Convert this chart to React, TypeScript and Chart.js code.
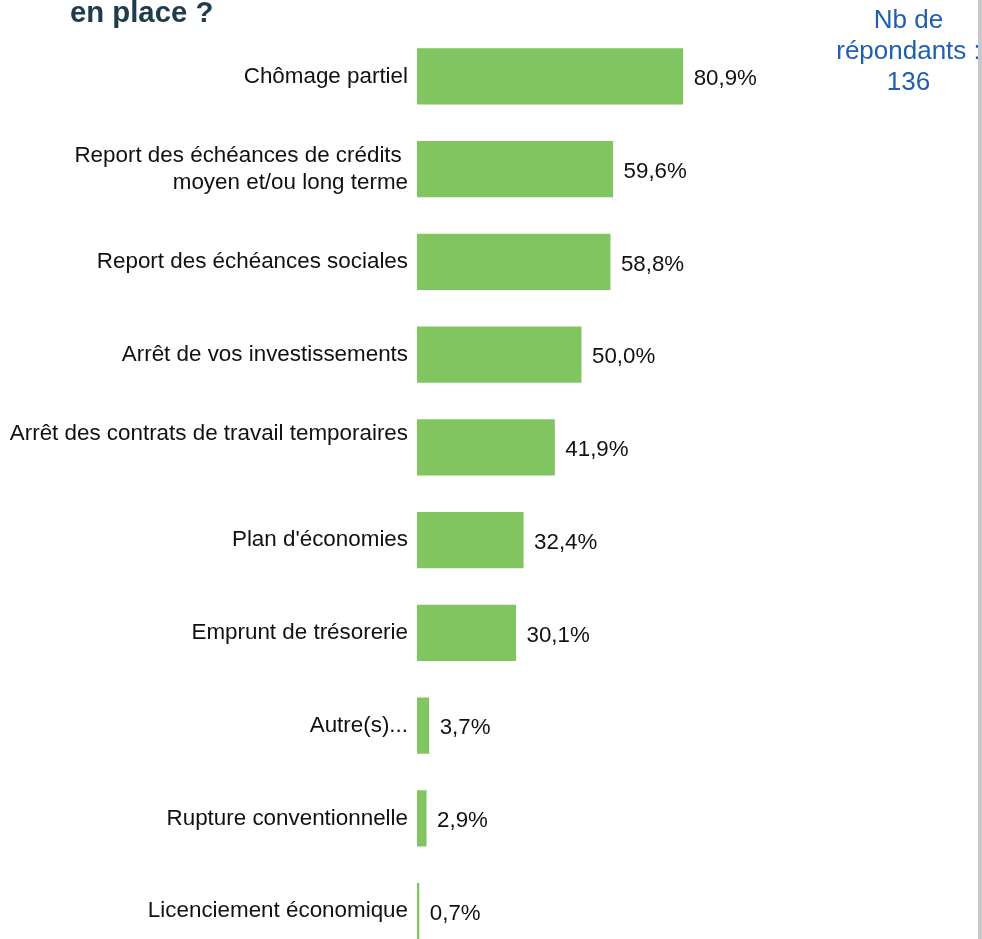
import React, { useEffect, useRef } from "react";
import { Chart, registerables } from "chart.js";

Chart.register(...registerables);

const categories: (string | string[])[] = [
  "Chômage partiel",
  ["Report des échéances de crédits ", "moyen et/ou long terme"],
  "Report des échéances sociales",
  "Arrêt de vos investissements",
  ["Arrêt des contrats de travail temporaires", ""],
  "Plan d'économies",
  "Emprunt de trésorerie",
  "Autre(s)...",
  "Rupture conventionnelle",
  "Licenciement économique",
];

const values: number[] = [80.9, 59.6, 58.8, 50.0, 41.9, 32.4, 30.1, 3.7, 2.9, 0.7];

const titleText = "en place ?";
const noteLines: string[] = ["Nb de", "répondants :", "136"];

const FONT = '"Liberation Sans", Arial, sans-serif';

const fmt = (v: number) => v.toFixed(1).replace(".", ",") + "%";

export default function App() {
  const ref = useRef<HTMLCanvasElement>(null);

  useEffect(() => {
    const canvas = ref.current;
    if (!canvas) return;

    const valueLabels = {
      id: "valueLabels",
      afterDatasetsDraw(chart: any) {
        const ctx = chart.ctx;
        const meta = chart.getDatasetMeta(0);
        ctx.save();
        ctx.font = `22.3px ${FONT}`;
        ctx.fillStyle = "#111111";
        ctx.textAlign = "left";
        ctx.textBaseline = "middle";
        meta.data.forEach((bar: any, i: number) => {
          ctx.fillText(fmt(values[i]), bar.x + 10.5, bar.y + 2.5);
        });
        ctx.restore();
      },
    };

    const overlay = {
      id: "overlay",
      afterDraw(chart: any) {
        const ctx = chart.ctx;
        ctx.save();
        // title (cropped)
        ctx.font = `bold 29.3px ${FONT}`;
        ctx.fillStyle = "#203B4C";
        ctx.textAlign = "left";
        ctx.textBaseline = "alphabetic";
        ctx.fillText(titleText, 70, 22);
        // respondents note
        ctx.font = `26px ${FONT}`;
        ctx.fillStyle = "#1F5FAF";
        ctx.textAlign = "center";
        noteLines.forEach((t, i) => {
          ctx.fillText(t, 908.5, 28 + i * 31);
        });
        // right grey border
        ctx.fillStyle = "#c8c8c8";
        ctx.fillRect(978, 0, 4, chart.height);
        ctx.restore();
      },
    };

    const chart = new Chart(canvas, {
      type: "bar",
      data: {
        labels: categories,
        datasets: [
          {
            data: values,
            backgroundColor: "#80C560",
            barPercentage: 0.607,
            categoryPercentage: 1,
          },
        ],
      },
      options: {
        indexAxis: "y",
        responsive: false,
        animation: false,
        devicePixelRatio: 1,
        layout: { padding: { top: 29.975, bottom: 19.525, left: 0, right: 236 } },
        plugins: {
          legend: { display: false },
          tooltip: { enabled: false },
          title: { display: false },
        },
        scales: {
          x: { display: false, min: 0, max: 100 },
          y: {
            afterFit(axis: any) {
              axis.width = 417;
            },
            grid: { display: false, drawTicks: false },
            border: { display: false },
            ticks: {
              padding: 9,
              autoSkip: false,
              color: "#111111",
              font: { family: FONT, size: 22.4 },
            },
          },
        },
      },
      plugins: [valueLabels, overlay],
    } as any);

    return () => chart.destroy();
  }, []);

  return (
    <div
      style={{
        position: "fixed",
        left: 0,
        top: 0,
        width: 982,
        height: 939,
        overflow: "hidden",
        background: "#ffffff",
      }}
    >
      <canvas ref={ref} width={982} height={980} style={{ display: "block" }} />
    </div>
  );
}
